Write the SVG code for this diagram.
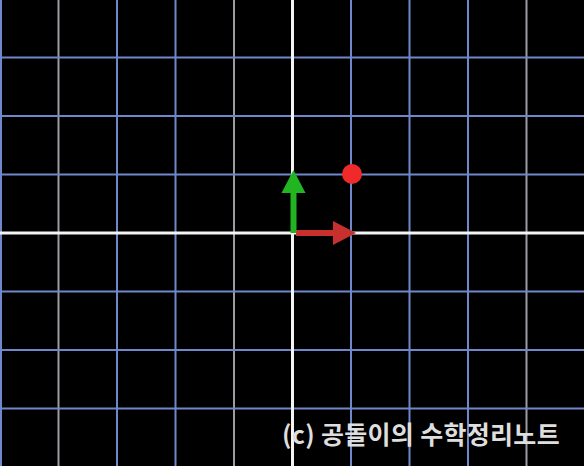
<svg xmlns="http://www.w3.org/2000/svg" width="584" height="466" viewBox="0 0 584 466">
<style>
.gb{stroke:#6f88cc;stroke-width:2;}
.gg{stroke:#9a9ca4;stroke-width:2;}
.ax{stroke:#f4f4f4;stroke-width:3;}
.lbl{font-family:"Noto Sans CJK KR","Noto Sans",sans-serif;font-size:25px;fill:#dedede;font-weight:bold;letter-spacing:0.3px;}
</style>
<rect x="0" y="0" width="584" height="466" fill="#000"/>
<g id="grid">
<line class="gb" x1="1" y1="0" x2="1" y2="466"/>
<line class="gg" x1="58.5" y1="0" x2="58.5" y2="466"/>
<line class="gb" x1="117" y1="0" x2="117" y2="466"/>
<line class="gb" x1="175.5" y1="0" x2="175.5" y2="466"/>
<line class="gg" x1="234" y1="0" x2="234" y2="466"/>
<line class="gb" x1="351" y1="0" x2="351" y2="466"/>
<line class="gb" x1="409.5" y1="0" x2="409.5" y2="466"/>
<line class="gb" x1="468" y1="0" x2="468" y2="466"/>
<line class="gg" x1="526.5" y1="0" x2="526.5" y2="466"/>
<line class="gb" x1="0" y1="57.5" x2="584" y2="57.5"/>
<line class="gb" x1="0" y1="116" x2="584" y2="116"/>
<line class="gb" x1="0" y1="174.5" x2="584" y2="174.5"/>
<line class="gb" x1="0" y1="291.5" x2="584" y2="291.5"/>
<line class="gb" x1="0" y1="350" x2="584" y2="350"/>
<line class="gb" x1="0" y1="408.5" x2="584" y2="408.5"/>
</g>
<g id="axes">
<line class="ax" x1="0" y1="233" x2="584" y2="233"/>
<line class="ax" x1="292.5" y1="0" x2="292.5" y2="466"/>
</g>
<g id="connectors">
<g id="red-vector">
<rect x="296" y="230" width="40" height="6" fill="#c8302e"/>
<polygon points="333,221 356,233 333,245" fill="#c8302e"/>
</g>
<g id="green-vector">
<rect x="290.5" y="190" width="6" height="43" fill="#22b522"/>
<polygon points="281.5,193 293.5,170 305.5,193" fill="#22b522"/>
</g>
</g>
<g id="point">
<circle cx="352" cy="174" r="10" fill="#f02a2a"/>
</g>
<text class="lbl" x="282" y="444">(c) 공돌이의 수학정리노트</text>
</svg>
